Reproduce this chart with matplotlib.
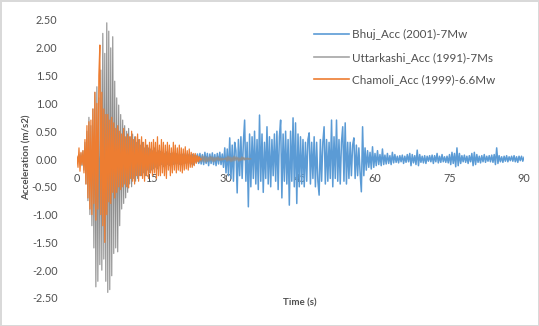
import numpy as np
import matplotlib
matplotlib.use("Agg")
import matplotlib.pyplot as plt

plt.rcParams['font.family'] = ['Lato', 'DejaVu Sans']

# Bhuj record, one peak value every 0.25 s from 0 to 90 s
bhuj_dt = 0.25
bhuj_acc = [
    0.00, 0.03, -0.04, 0.05, -0.03, 0.04, -0.05, 0.03, -0.04, 0.06, -0.05, 0.04, -0.06, 0.05, -0.04, 0.06, -0.05, 0.04, -0.06, 0.05,
    -0.06, 0.07, -0.05, 0.06, -0.07, 0.05, -0.06, 0.08, -0.07, 0.06, -0.05, 0.07, -0.08, 0.06, -0.07, 0.05, -0.06, 0.07, -0.05, 0.06,
    -0.07, 0.06, -0.05, 0.08, -0.06, 0.07, -0.08, 0.05, -0.06, 0.07, -0.05, 0.08, -0.07, 0.06, -0.08, 0.07, -0.06, 0.05, -0.07, 0.08,
    -0.06, 0.07, -0.08, 0.06, -0.05, 0.08, -0.07, 0.06, -0.09, 0.07, -0.06, 0.08, -0.07, 0.05, -0.08, 0.09, -0.06, 0.07, -0.08, 0.06,
    -0.07, 0.09, -0.08, 0.06, -0.10, 0.08, -0.07, 0.09, -0.06, 0.10, -0.08, 0.07, -0.09, 0.08, -0.10, 0.07, -0.06, 0.09, -0.08, 0.10,
    -0.09, 0.08, -0.10, 0.12, -0.08, 0.10, -0.12, 0.09, -0.08, 0.11, -0.10, 0.08, -0.12, 0.10, -0.09, 0.12, -0.10, 0.09, -0.15, 0.20,
    -0.25, 0.18, -0.30, 0.38, -0.35, 0.25, -0.40, 0.30, 0.15, -0.61, 0.35, -0.30, 0.40, -0.35, 0.30, 0.70, -0.40, 0.30, -0.86, 0.45,
    -0.50, 0.40, -0.35, 0.50, -0.45, 0.35, -0.55, 0.79, -0.40, 0.45, -0.60, 0.30, -0.35, 0.58, -0.45, 0.40, -0.50, 0.35, -0.30, 0.45,
    -0.40, 0.50, -0.55, 0.40, 0.70, -0.70, 0.45, -0.40, 0.50, -0.45, 0.35, -0.83, 0.50, -0.40, 0.74, -0.50, 0.65, -0.80, 0.45, -0.50,
    0.40, -0.45, 0.35, -0.50, 0.30, -0.40, 0.35, 0.47, -0.45, 0.30, -0.35, 0.40, -0.50, 0.30, -0.40, -0.65, 0.35, -0.40, 0.30, 0.58,
    -0.45, 0.35, -0.40, 0.30, -0.35, 0.70, -0.50, 0.40, -0.35, 0.70, -0.40, 0.35, -0.45, 0.30, 0.58, -0.40, 0.65, -0.45, 0.30, -0.35,
    0.30, -0.30, 0.25, 0.38, -0.35, 0.25, -0.30, 0.20, -0.25, -0.59, 0.58, -0.30, 0.20, -0.20, 0.15, -0.15, 0.12, -0.18, 0.22, -0.15,
    0.10, -0.12, 0.15, -0.10, 0.08, -0.12, 0.18, -0.10, 0.07, -0.09, 0.10, -0.08, 0.06, -0.10, 0.12, -0.07, 0.08, -0.06, 0.05, -0.07,
    0.06, -0.05, 0.07, -0.08, 0.05, -0.06, 0.08, -0.05, 0.10, -0.12, 0.08, -0.07, 0.06, -0.10, 0.16, -0.12, 0.08, -0.06, 0.05, -0.07,
    0.06, -0.08, 0.05, -0.04, 0.06, -0.05, 0.07, -0.08, 0.06, -0.05, 0.10, -0.07, 0.05, -0.06, 0.08, -0.05, 0.04, -0.06, 0.05, -0.07,
    0.08, -0.10, 0.12, -0.08, 0.10, -0.14, 0.20, -0.12, 0.10, -0.08, 0.06, -0.05, 0.07, -0.06, 0.05, -0.08, 0.06, -0.05, 0.10, -0.12,
    0.12, -0.10, 0.08, -0.06, 0.05, -0.07, 0.06, -0.05, 0.08, -0.06, 0.05, -0.04, 0.06, -0.05, 0.07, -0.06, 0.08, -0.10, 0.20, -0.08,
    0.06, -0.05, 0.04, -0.06, 0.05, -0.04, 0.06, -0.05, 0.04, -0.03, 0.05, -0.04, 0.06, -0.05, 0.04, -0.06, 0.05, -0.03, 0.05, -0.04,
    0.03,
]

# Uttarkashi record, one peak value every 0.2 s from 0 to 35 s
utt_dt = 0.2
utt_acc = [
    0.02, -0.05, 0.08, -0.06, 0.10, -0.12, 0.15, -0.20, 0.30, -0.45, 0.50, -0.75, 0.75, -1.00, 0.60, -1.20, 0.90, -1.60, 1.20, -2.30, 1.30, -2.20, 1.10, -1.90, 1.60,
    -2.00, 2.26, -1.80, 1.90, -2.20, 2.45, -2.40, 2.30, -2.35, 2.00, -2.10, 2.20, -1.70, 1.40, -1.60, 1.10, -1.67, 0.97, -1.20, 0.80, -0.90, 0.70, -0.80, 0.60, -0.70,
    0.50, -0.60, 0.55, -0.45, 0.40, -0.50, 0.45, -0.35, 0.40, -0.40, 0.30, -0.35, 0.35, -0.30, 0.25, -0.30, 0.30, -0.25, 0.20, -0.30, 0.25, -0.20, 0.20, -0.25, 0.18,
    -0.20, 0.15, -0.18, 0.20, -0.15, 0.12, -0.18, 0.15, -0.12, 0.14, -0.10, 0.12, -0.14, 0.10, -0.12, 0.13, -0.10, 0.08, -0.12, 0.10, -0.08, 0.11, -0.10, 0.08, -0.09,
    0.10, -0.08, 0.07, -0.10, 0.08, -0.06, 0.09, -0.07, 0.06, -0.08, 0.07, -0.06, 0.08, -0.05, 0.06, -0.07, 0.05, -0.06, 0.07, -0.05, 0.06, -0.04, 0.05, -0.06, 0.04,
    -0.05, 0.06, -0.04, 0.05, -0.06, 0.04, -0.05, 0.03, -0.04, 0.05, -0.03, 0.04, -0.05, 0.03, -0.04, 0.03, -0.02, 0.04, -0.03, 0.02, -0.03, 0.02, -0.02, 0.01, -0.01,
    0.03, -0.04, 0.05, -0.03, 0.04, -0.05, 0.03, -0.04, 0.05, -0.03, 0.04, -0.02, 0.03, -0.04, 0.02, -0.03, 0.04, -0.02, 0.03, -0.02, 0.02, -0.01, 0.02, -0.01, 0.01,
    0.00,
]

# Chamoli record, one peak value every 0.2 s from 0 to 25 s
cha_dt = 0.2
cha_acc = [
    0.05, -0.15, 0.20, -0.22, 0.12, -0.10, 0.15, -0.25, 0.35, -0.45, 0.60, -0.70, 0.67, -0.90, 0.70, -1.00, 0.90, -0.80, 1.20, -1.10, 1.00, -0.90, 1.50, 2.05, -1.00,
    1.20, -1.20, 0.90, -1.50, 0.80, -1.00, 0.80, -0.77, 0.70, -0.80, 0.75, -0.60, 0.65, -0.70, 0.55, -0.60, 0.60, -0.50, 0.50, -0.55, 0.45, -0.50, 0.55, -0.45, 0.40,
    -0.50, 0.45, -0.52, 0.40, -0.35, 0.50, -0.40, 0.35, -0.45, 0.40, -0.30, 0.45, -0.40, 0.35, -0.30, 0.40, -0.35, 0.30, -0.40, 0.35, -0.30, 0.25, -0.35, 0.30, -0.25,
    0.30, -0.30, 0.35, -0.25, 0.30, -0.35, 0.40, -0.30, 0.25, -0.30, 0.35, -0.25, 0.30, -0.30, 0.25, -0.35, 0.30, -0.20, 0.25, -0.30, 0.20, -0.25, 0.30, -0.20, 0.25,
    -0.25, 0.20, -0.20, 0.25, -0.22, 0.20, -0.25, 0.18, -0.20, 0.22, -0.18, 0.15, -0.20, 0.18, -0.15, 0.12, -0.15, 0.10, -0.12, 0.10, -0.08, 0.06, -0.05, 0.04, -0.02,
    0.00,
]

series_labels = ["Bhuj_Acc (2001)-7Mw", "Uttarkashi_Acc (1991)-7Ms", "Chamoli_Acc (1999)-6.6Mw"]
series_colors = ["#5B9BD5", "#A5A5A5", "#ED7D31"]
x_ticks = [0, 15, 30, 45, 60, 75, 90]
y_ticks = [2.5, 2.0, 1.5, 1.0, 0.5, 0.0, -0.5, -1.0, -1.5, -2.0, -2.5]

text_color = "#505050"

fig = plt.figure(figsize=(5.39, 3.26), dpi=100)
fig.patch.set_facecolor("white")
fig.patch.set_edgecolor("#d9d9d9")
fig.patch.set_linewidth(1.0)

ax = fig.add_axes([77 / 539, 28 / 326, 447 / 539, 278 / 326])

records = [(bhuj_dt, bhuj_acc), (utt_dt, utt_acc), (cha_dt, cha_acc)]
line_colors = ["#5B9BD5", "#8f8f8f", "#ED7D31"]
widths = [1.1, 0.8, 0.9]
for (dt, acc), lab, col, lw in zip(records, series_labels, line_colors, widths):
    t = np.arange(len(acc)) * dt
    ax.plot(t, acc, color=col, lw=lw)

ax.set_xlim(0, 90)
ax.set_ylim(-2.5, 2.5)
ax.set_xticks(x_ticks)
ax.set_yticks(y_ticks)
ax.set_yticklabels([f"{v:.2f}" for v in y_ticks])

for s in ax.spines.values():
    s.set_visible(False)
ax.spines['bottom'].set_position(('data', 0))

ax.tick_params(axis='both', length=0, labelsize=7.8, labelcolor=text_color)
ax.tick_params(axis='x', pad=10)
ax.tick_params(axis='y', pad=14)

fig.text(27 / 539, 1 - 157 / 326, "Acceleration (m/s2)", rotation=90,
         ha='center', va='center', fontsize=7, fontweight='bold', color=text_color)
fig.text(300 / 539, 1 - 303 / 326, "Time (s)", ha='center', va='center',
         fontsize=7, fontweight='bold', color=text_color)

# legend keys use the nominal series colours
handles = [plt.Line2D([], [], color=c, lw=1.2) for c in series_colors]
leg = ax.legend(handles, series_labels, loc='upper left',
                bbox_to_anchor=(314 / 539, 1 - 29 / 326),
                bbox_transform=fig.transFigure, frameon=False, fontsize=8.4,
                handlelength=3.0, handletextpad=0.3, labelspacing=1.0,
                borderpad=0, borderaxespad=0)
for txt in leg.get_texts():
    txt.set_color(text_color)

fig.savefig("out.png", dpi=100)
